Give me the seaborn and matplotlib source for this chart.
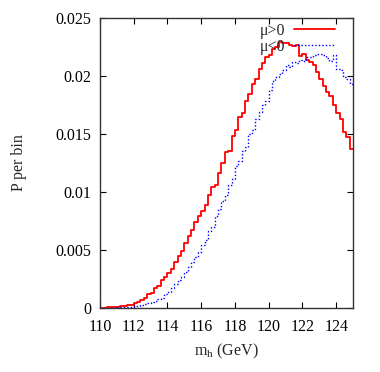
import numpy as np
import pandas as pd
import matplotlib
matplotlib.use("Agg")
import matplotlib.pyplot as plt
import seaborn as sns
from matplotlib.lines import Line2D
from matplotlib.ticker import FuncFormatter

# bin edges in m_h (GeV), 0.2 GeV wide
bin_edges = [round(110.0 + 0.2 * i, 1) for i in range(76)]
bin_centres = [round(e + 0.1, 2) for e in bin_edges[:-1]]

# probability per bin, mu > 0 (red, solid)
p_mu_pos = [
    0.00002, 0.00004, 0.00006, 0.00008, 0.0001, 0.00013, 0.00016, 0.0002, 0.00025, 0.0003,
    0.0004, 0.0005, 0.0007, 0.0009, 0.0012, 0.0013, 0.0017, 0.0019, 0.0024, 0.0027,
    0.0030, 0.0034, 0.0040, 0.0045, 0.0049, 0.0056, 0.0062, 0.0067, 0.0074, 0.0079,
    0.0084, 0.0089, 0.0097, 0.0104, 0.0106, 0.0116, 0.0125, 0.0134, 0.0135, 0.0148,
    0.0153, 0.0165, 0.0168, 0.0178, 0.0184, 0.0193, 0.0197, 0.0206, 0.0211, 0.0216,
    0.0218, 0.0223, 0.0225, 0.0229, 0.0228, 0.0228, 0.0227, 0.0226, 0.0227, 0.0217,
    0.0219, 0.0214, 0.0212, 0.0209, 0.0203, 0.0197, 0.0191, 0.0186, 0.0183, 0.0175,
    0.0168, 0.0163, 0.0152, 0.0147, 0.0137,
]

# probability per bin, mu < 0 (blue, dotted)
p_mu_neg = [
    0.00001, 0.00001, 0.00002, 0.00003, 0.00004, 0.00005, 0.00006, 0.00008, 0.0001, 0.00012,
    0.00015, 0.0002, 0.00026, 0.00032, 0.0004, 0.0005, 0.0006, 0.0008, 0.0009, 0.0012,
    0.0014, 0.0017, 0.0021, 0.0024, 0.0027, 0.0031, 0.0035, 0.0040, 0.0044, 0.0048,
    0.0054, 0.0059, 0.0066, 0.0070, 0.0079, 0.0085, 0.0092, 0.0097, 0.0106, 0.0111,
    0.0122, 0.0127, 0.0135, 0.0139, 0.0150, 0.0153, 0.0163, 0.0169, 0.0175, 0.0178,
    0.0188, 0.0196, 0.0199, 0.0202, 0.0205, 0.0209, 0.0208, 0.0212, 0.0211, 0.0214,
    0.0213, 0.0216, 0.0216, 0.0218, 0.0219, 0.0219, 0.0218, 0.0215, 0.0213, 0.0218,
    0.0206, 0.0205, 0.0199, 0.0197, 0.0193,
]

x_ticks = [110, 112, 114, 116, 118, 120, 122, 124]
y_ticks = [0, 0.005, 0.01, 0.015, 0.02, 0.025]

df_pos = pd.DataFrame({"m_h": bin_centres, "p": p_mu_pos})
df_neg = pd.DataFrame({"m_h": bin_centres, "p": p_mu_neg})

sns.set_style("ticks")
plt.rcParams["font.family"] = ["Liberation Serif", "DejaVu Serif"]
plt.rcParams["mathtext.fontset"] = "custom"
plt.rcParams["mathtext.rm"] = "Liberation Serif"
plt.rcParams["mathtext.it"] = "Liberation Serif:italic"

fig = plt.figure(figsize=(3.8, 3.72), dpi=100)
ax = fig.add_axes([0.263, 0.172, 0.666, 0.78])

sns.histplot(data=df_pos, x="m_h", weights="p", bins=bin_edges,
             element="step", fill=False, color="#ff0000", linewidth=1.3, ax=ax)
sns.histplot(data=df_neg, x="m_h", weights="p", bins=bin_edges,
             element="step", fill=False, color="#0000ff", linewidth=1.0,
             linestyle=(0, (1, 1.5)), ax=ax)

ax.set_xlim(110, 125)
ax.set_ylim(0, 0.025)
ax.set_xticks(x_ticks)
ax.set_yticks(y_ticks)
ax.yaxis.set_major_formatter(FuncFormatter(lambda v, _: f"{v:g}"))
ax.tick_params(axis="y", direction="in", length=4, width=0.8, right=True,
               labelsize=11.5, pad=6, colors="black")
ax.tick_params(axis="x", direction="in", length=4, width=0.8, top=True,
               labelsize=11.5, pad=8, colors="black")
for s in ax.spines.values():
    s.set_visible(True)
    s.set_linewidth(1.0)
    s.set_color("#333333")

ax.set_xlabel(r"m$_\mathrm{h}$ (GeV)", fontsize=11.5, labelpad=5)
ax.set_ylabel("P per bin", fontsize=11.5, labelpad=21)

handles = [Line2D([], [], color="#ff0000", linewidth=1.3),
           Line2D([], [], color="#0000ff", linewidth=1.0, linestyle=(0, (1, 1.5)))]
ax.legend(handles, ["μ>0", "μ<0"], loc="upper right", bbox_to_anchor=(0.955, 1.005),
          frameon=False, markerfirst=False, handlelength=2.6, handletextpad=0.5,
          labelspacing=0.0, fontsize=11.5, borderaxespad=0)

fig.savefig("out.png", dpi=100)
